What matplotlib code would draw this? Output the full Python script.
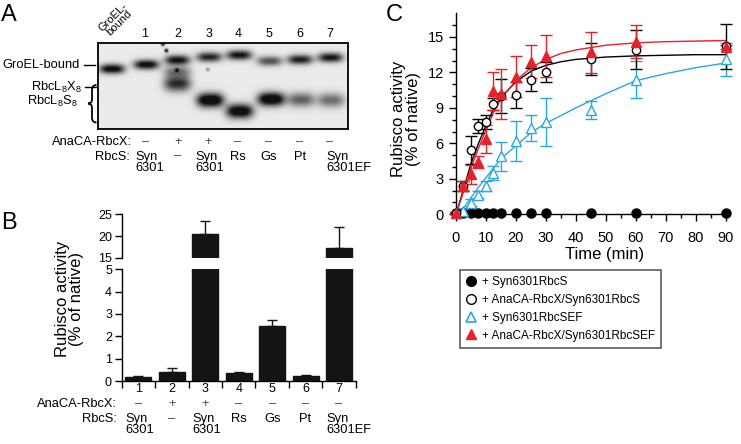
import matplotlib
matplotlib.use('Agg')
import matplotlib.pyplot as plt
import numpy as np
from matplotlib.lines import Line2D
from matplotlib.path import Path
from matplotlib.patches import PathPatch

plt.rcParams['font.family'] = ['Liberation Sans', 'DejaVu Sans']
plt.rcParams['mathtext.fontset'] = 'custom'
plt.rcParams['mathtext.rm'] = 'Liberation Sans'
plt.rcParams['axes.linewidth'] = 1.0

W, H = 741, 444


def fx(px):
    return px / W


def fy(py):
    return 1 - py / H


# ---- panel A: gel bands (pixel positions of the photo) ----
gel_lanes = ['GroEL-\nbound', '1', '2', '3', '4', '5', '6', '7']
groel_x = [111.7, 146, 177, 209, 239, 269.5, 300, 330.5]
groel_y = [69.3, 65, 60.5, 57.5, 55.5, 61.5, 60, 58]
groel_amp = [0.85, 0.85, 0.8, 0.72, 0.8, 0.55, 0.75, 0.78]
low_x = [177, 177, 210, 239.5, 271, 301, 331]
low_y = [72, 84, 100.5, 111.5, 99.5, 100, 100.5]
low_amp = [0.4, 0.7, 1.0, 0.95, 1.0, 0.5, 0.45]
low_sy = [4.0, 5.5, 5.0, 5.0, 4.8, 5.0, 5.0]
speck_x = [162.5, 166, 176.5, 207.5]
speck_y = [44.5, 51, 70.5, 70]
speck_amp = [0.9, 0.9, 0.6, 0.35]

signs_a = ['–', '+', '+', '–', '–', '–', '–']
rbcs_a = ['Syn\n6301', '–', 'Syn\n6301', 'Rs', 'Gs', 'Pt', 'Syn\n6301EF']

# ---- panel B: bar values ----
lanes_b = ['1', '2', '3', '4', '5', '6', '7']
activity = [0.2, 0.39, 20.4, 0.38, 2.48, 0.21, 17.3]
activity_err = [0.02, 0.18, 3.1, 0.04, 0.27, 0.08, 4.8]
signs_b = ['–', '+', '+', '–', '–', '–', '–']
rbcs_b = ['Syn\n6301', '–', 'Syn\n6301', 'Rs', 'Gs', 'Pt', 'Syn\n6301EF']

# ---- panel C: time course ----
time = [0, 2.5, 5, 7.5, 10, 12.5, 15, 20, 25, 30, 45, 60, 90]
syn_rbcs = [0.1, 0.1, 0.1, 0.1, 0.1, 0.1, 0.1, 0.1, 0.1, 0.1, 0.1, 0.1, 0.1]
rbcx_rbcs = [0.1, 2.4, 5.45, 7.5, 7.8, 9.3, 10.0, 10.1, 11.4, 12.0, 13.1, 13.9, 14.2]
rbcx_rbcs_err = [0.1, 0.4, 1.2, 0.6, 0.6, 0.5, 1.45, 1.1, 1.0, 0.85, 1.35, 1.65, 1.9]
syn_rbcsef = [0.1, 0.3, 0.98, 1.66, 2.4, 3.5, 4.9, 6.2, 7.3, 7.8, 8.85, 11.4, 13.1]
syn_rbcsef_err = [0.05, 0.2, 0.3, 0.3, 0.4, 0.6, 1.2, 1.7, 1.1, 2.0, 0.75, 1.6, 1.4]
rbcx_rbcsef = [0.1, 2.4, 3.4, 4.4, 6.35, 10.45, 10.2, 11.65, 12.9, 13.4, 13.7, 14.6, 14.15]
rbcx_rbcsef_err = [0.1, 0.45, 0.8, 0.5, 1.2, 1.6, 2.1, 1.7, 1.4, 1.8, 1.75, 1.4, 0.2]

fit_t = [0, 2.5, 5, 7.5, 10, 12.5, 15, 20, 25, 30, 35, 40, 45, 50, 60, 70, 80, 90]
fit_black = [0, 2.1, 4.3, 6.0, 7.5, 8.9, 9.9, 11.2, 12.1, 12.6, 12.9, 13.1, 13.2, 13.3, 13.4, 13.45, 13.5, 13.5]
fit_red = [0, 1.9, 3.9, 5.6, 7.1, 8.6, 9.8, 11.3, 12.4, 13.1, 13.6, 13.9, 14.1, 14.3, 14.5, 14.6, 14.65, 14.7]
fit_cyan = [0, 0.5, 1.4, 2.3, 3.1, 3.9, 4.7, 5.8, 6.9, 7.7, 8.35, 9.0, 9.6, 10.2, 11.3, 11.9, 12.4, 12.8]

RED = '#e6212b'
CYAN = '#2aa7df'

fig = plt.figure(figsize=(7.41, 4.44), dpi=100)

# ================= A =================
gx0, gx1, gy0, gy1 = 97.7, 347.7, 42.7, 129
ax_a = fig.add_axes([fx(gx0), fy(gy1), (gx1 - gx0) / W, (gy1 - gy0) / H])
xx, yy = np.meshgrid(np.linspace(gx0, gx1, 500), np.linspace(gy0, gy1, 172))
dark = np.zeros_like(xx)
for x0, y0, a in zip(groel_x, groel_y, groel_amp):
    dark += a * np.exp(-(np.abs(xx - x0) / 12.5) ** 3) * np.exp(-0.5 * ((yy - y0) / 3.4) ** 2)
for x0, y0, a, s in zip(low_x, low_y, low_amp, low_sy):
    dark += a * np.exp(-(np.abs(xx - x0) / 13.5) ** 3) * np.exp(-0.5 * ((yy - y0) / s) ** 2)
for x0, y0, a in zip(speck_x, speck_y, speck_amp):
    dark += a * np.exp(-0.5 * (((xx - x0) / 1.3) ** 2 + ((yy - y0) / 1.3) ** 2))
img = np.clip(0.08 + 1.1 * dark, 0, 0.93)
ax_a.imshow(img, cmap='gray_r', vmin=0, vmax=1, extent=(gx0, gx1, gy1, gy0),
            aspect='auto', interpolation='bilinear')
ax_a.set_xlim(gx0, gx1)
ax_a.set_ylim(gy1, gy0)
ax_a.set_xticks([])
ax_a.set_yticks([])
for s in ax_a.spines.values():
    s.set_linewidth(1.3)

lane_lbl_x = [145, 178, 208.5, 238, 268.5, 300, 330]
for x, t in zip(lane_lbl_x, gel_lanes[1:]):
    ax_a.text(x, 33.5, t, ha='center', va='center', fontsize=9)
ax_a.text(116, 20, gel_lanes[0], ha='center', va='center', fontsize=8,
          rotation=45, linespacing=0.85)

ax_a.text(80, 65, 'GroEL-bound', ha='right', va='center', fontsize=9.3)
ax_a.plot([84, 95], [65, 65], color='k', lw=1, clip_on=False)
ax_a.text(82, 87, r'RbcL$_\mathregular{8}$X$_\mathregular{8}$', ha='right', va='center', fontsize=9.3)
ax_a.plot([85, 96], [87, 87], color='k', lw=1, clip_on=False)
ax_a.text(78, 101, r'RbcL$_\mathregular{8}$S$_\mathregular{8}$', ha='right', va='center', fontsize=9.3)
brace = Path([(96.5, 85), (92, 85), (92, 90), (92, 99), (92, 103.5), (88, 103.5),
              (92, 103.5), (92, 108), (92, 117.5), (92, 122.5), (96.5, 122.5)],
             [Path.MOVETO, Path.CURVE3, Path.CURVE3, Path.LINETO, Path.CURVE3, Path.CURVE3,
              Path.CURVE3, Path.CURVE3, Path.LINETO, Path.CURVE3, Path.CURVE3])
ax_a.add_patch(PathPatch(brace, fill=False, lw=1.3, color='k', clip_on=False))

ax_a.text(131.7, 141.7, 'AnaCA-RbcX:', ha='right', va='center', fontsize=9.3)
for x, t in zip(lane_lbl_x, signs_a):
    ax_a.text(x, 141.7, t, ha='center', va='center', fontsize=9, color='#444444')
ax_a.text(130, 150.5, 'RbcS:', ha='right', va='top', fontsize=9.3)
rbcs_a_x = [135, 178, 195, 238, 268.5, 300, 326.5]
for x, t in zip(rbcs_a_x, rbcs_a):
    ha = 'left' if '\n' in t else 'center'
    ax_a.text(x, 150.5, t, ha=ha, va='top', fontsize=9.3, linespacing=0.9,
              color='#444444' if t == '–' else 'k')

# ================= B =================
xb = np.arange(len(lanes_b))
ax_lo = fig.add_axes([fx(121.7), fy(381), 234 / W, (381 - 269.3) / H])
ax_hi = fig.add_axes([fx(121.7), fy(257.7), 234 / W, (257.7 - 214.3) / H])
for ax in (ax_lo, ax_hi):
    ax.bar(xb, activity, width=0.78, color='#141414', edgecolor='#141414',
           yerr=[np.zeros(len(xb)), activity_err], capsize=3.6,
           error_kw=dict(lw=1, capthick=1, ecolor='#141414'))
    ax.set_xlim(-0.5, 6.5)
    for side in ('top', 'right'):
        ax.spines[side].set_visible(False)
    ax.tick_params(axis='y', length=5, width=1, pad=2, labelsize=9)
ax_lo.set_ylim(0, 5)
ax_lo.set_yticks([0, 1, 2, 3, 4, 5])
ax_lo.set_xticks(np.arange(-0.5, 7, 1))
ax_lo.set_xticklabels([])
ax_lo.tick_params(axis='x', length=5, width=1)
ax_hi.set_ylim(15, 25)
ax_hi.set_yticks([15, 20, 25])
ax_hi.spines['bottom'].set_visible(False)
ax_hi.set_xticks([])

tr = ax_lo.get_xaxis_transform()
for i, t in enumerate(lanes_b):
    ax_lo.text(i, -0.075, t, transform=tr, ha='center', va='center', fontsize=9)
ax_lo.text(-0.63, -0.206, 'AnaCA-RbcX:', transform=tr, ha='right', va='center', fontsize=9.3)
for i, t in enumerate(signs_b):
    ax_lo.text(i, -0.206, t, transform=tr, ha='center', va='center', fontsize=9, color='#444444')
ax_lo.text(-0.63, -0.29, 'RbcS:', transform=tr, ha='right', va='top', fontsize=9.3)
for i, t in enumerate(rbcs_b):
    if '\n' in t:
        ax_lo.text(i - 0.39, -0.29, t, transform=tr, ha='left', va='top', fontsize=9.3, linespacing=0.9)
    else:
        ax_lo.text(i, -0.29, t, transform=tr, ha='center', va='top', fontsize=9.3,
                   color='#444444' if t == '–' else 'k')

fig.text(fx(69.5), fy(299), 'Rubisco activity\n(% of native)', rotation=90,
         ha='center', va='center', fontsize=12, linespacing=0.95)

# ================= C =================
ax_c = fig.add_axes([fx(456), fy(214.3), 269.7 / W, (214.3 - 13.3) / H])
ax_c.plot(fit_t, fit_cyan, color=CYAN, lw=1, zorder=2)
ax_c.plot(fit_t, fit_black, color='k', lw=1, zorder=2)
ax_c.plot(fit_t, fit_red, color=RED, lw=1, zorder=2)

series = [
    (syn_rbcsef, syn_rbcsef_err, dict(marker='^', mfc='white', mec=CYAN, ms=6.5), CYAN),
    (rbcx_rbcs, rbcx_rbcs_err, dict(marker='o', mfc='white', mec='k', ms=6), 'k'),
    (rbcx_rbcsef, rbcx_rbcsef_err, dict(marker='^', mfc=RED, mec=RED, ms=6.5), RED),
]
for k, (vals, err, mk, col) in enumerate(series):
    eb = ax_c.errorbar(time, vals, yerr=err, fmt='none', ecolor=col, elinewidth=1,
                       capsize=4.2, capthick=1, zorder=3 + k)
    for child in eb.get_children():
        child.set_clip_on(False)
    ax_c.plot(time, vals, ls='none', mew=1, clip_on=False, zorder=6 + k, **mk)
ax_c.plot(time, syn_rbcs, ls='none', marker='o', color='k', ms=6.5, clip_on=False, zorder=5)

ax_c.set_xlim(0, 90)
ax_c.set_ylim(0, 17)
ax_c.set_xticks(range(0, 91, 10))
ax_c.set_xticks(range(5, 90, 10), minor=True)
ax_c.set_yticks(range(0, 16, 3))
ax_c.set_yticks([v for v in range(0, 17) if v % 3], minor=True)
for side in ('top', 'right'):
    ax_c.spines[side].set_visible(False)
ax_c.tick_params(which='major', length=4.8, width=1, labelsize=10.5)
ax_c.tick_params(axis='x', which='major', pad=7.5)
ax_c.tick_params(axis='y', which='major', pad=4)
ax_c.tick_params(which='minor', length=3, width=1)
fig.text(fx(406), fy(119), 'Rubisco activity\n(% of native)', rotation=90,
         ha='center', va='center', fontsize=12, linespacing=0.95)
fig.text(fx(605), fy(255), 'Time (min)', ha='center', va='center', fontsize=12)

handles = [
    Line2D([], [], ls='none', marker='o', color='k', ms=7),
    Line2D([], [], ls='none', marker='o', mfc='white', mec='k', mew=1, ms=7),
    Line2D([], [], ls='none', marker='^', mfc='white', mec=CYAN, mew=1.2, ms=7),
    Line2D([], [], ls='none', marker='^', color=RED, ms=7),
]
labels = ['+ Syn6301RbcS', '+ AnaCA-RbcX/Syn6301RbcS', '+ Syn6301RbcSEF',
          '+ AnaCA-RbcX/Syn6301RbcSEF']
leg = fig.legend(handles, labels, loc='upper left', bbox_to_anchor=(fx(460), fy(270)),
                 fancybox=False, edgecolor='#333333', fontsize=8.5, handlelength=0.8,
                 handletextpad=0.6, labelspacing=0.5, borderpad=0.5, borderaxespad=0)
leg.get_frame().set_linewidth(1.2)

# panel letters
fig.text(fx(1), fy(4), 'A', ha='left', va='top', fontsize=17)
fig.text(fx(1), fy(212), 'B', ha='left', va='top', fontsize=17)
fig.text(fx(386), fy(4), 'C', ha='left', va='top', fontsize=17)

fig.savefig('out.png', dpi=100)
